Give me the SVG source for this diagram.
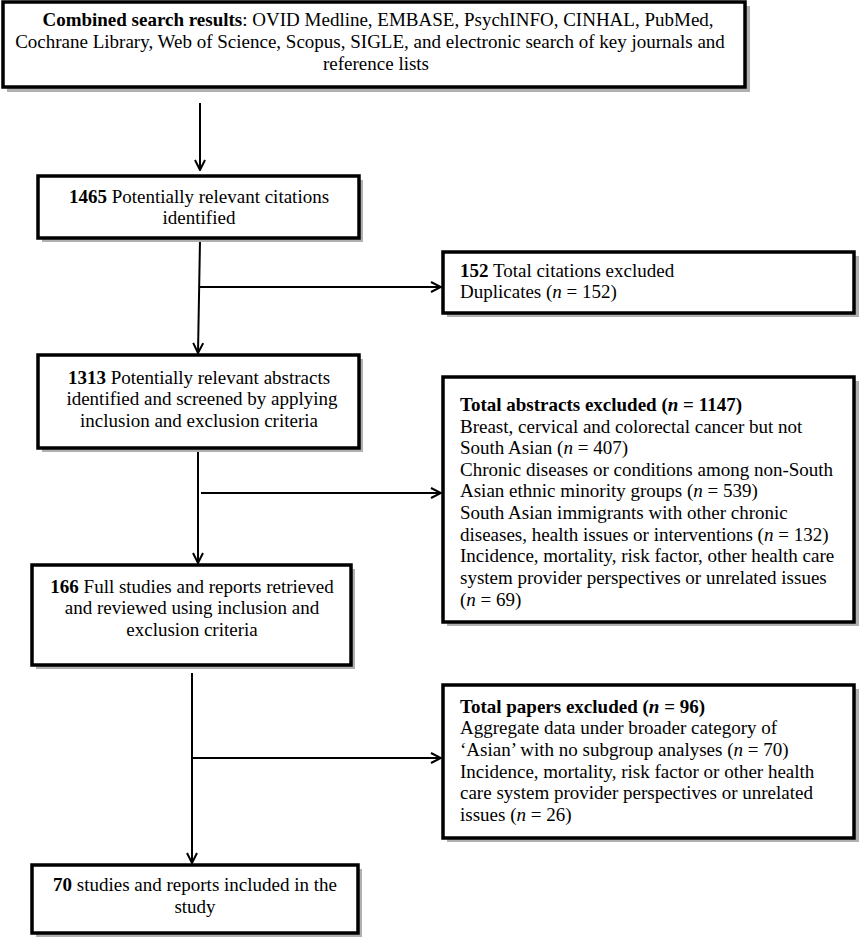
<svg xmlns="http://www.w3.org/2000/svg" width="859" height="939" viewBox="0 0 859 939">
<style>
.box{fill:#fff;stroke:#000;stroke-width:3.5}
.sh{fill:#b0b0b0}
text{font-family:"Liberation Serif","Times New Roman",serif;font-size:19px;fill:#000}
.c{text-anchor:middle}
.b{font-weight:bold}
.i{font-style:italic}
.ln{fill:none;stroke:#000;stroke-width:2}
</style>
<defs>
<marker id="ah" viewBox="0 0 12 12" refX="11" refY="6" markerWidth="12" markerHeight="12" markerUnits="userSpaceOnUse" orient="auto">
<path d="M1,1 L11,6 L1,11" fill="none" stroke="#000" stroke-width="2"/>
</marker>
</defs>
<rect width="859" height="939" fill="#fff"/>
<g id="connectors">
<line class="ln" x1="200" y1="103" x2="200" y2="170" marker-end="url(#ah)"/>
<line class="ln" x1="200" y1="240" x2="198" y2="353" marker-end="url(#ah)"/>
<line class="ln" x1="199" y1="287" x2="441" y2="287" marker-end="url(#ah)"/>
<line class="ln" x1="198" y1="450" x2="198" y2="563" marker-end="url(#ah)"/>
<line class="ln" x1="201" y1="493" x2="441" y2="493" marker-end="url(#ah)"/>
<line class="ln" x1="192" y1="673" x2="192" y2="863" marker-end="url(#ah)"/>
<line class="ln" x1="192" y1="758" x2="441" y2="758" marker-end="url(#ah)"/>
</g>
<g id="n1">
<rect class="sh" x="7" y="6" width="743" height="86"/>
<rect class="box" x="3" y="2" width="742" height="85"/>
<text class="c" x="378" y="26"><tspan class="b">Combined search results</tspan>: OVID Medline, EMBASE, PsychINFO, CINHAL, PubMed,</text>
<text class="c" x="370" y="48">Cochrane Library, Web of Science, Scopus, SIGLE, and electronic search of key journals and</text>
<text class="c" x="376" y="70">reference lists</text>
</g>
<g id="n2">
<rect class="sh" x="42" y="180" width="321" height="62"/>
<rect class="box" x="38" y="176" width="321" height="62"/>
<text class="c" x="199" y="203"><tspan class="b">1465</tspan> Potentially relevant citations</text>
<text class="c" x="199" y="224">identified</text>
</g>
<g id="n3">
<rect class="sh" x="447" y="256" width="412" height="61"/>
<rect class="box" x="443" y="252" width="411" height="61"/>
<text x="460" y="277"><tspan class="b">152</tspan> Total citations excluded</text>
<text x="460" y="298">Duplicates (<tspan class="i">n</tspan> = 152)</text>
</g>
<g id="n4">
<rect class="sh" x="42" y="359" width="321" height="93"/>
<rect class="box" x="38" y="355" width="321" height="93"/>
<text class="c" x="199" y="384"><tspan class="b">1313</tspan> Potentially relevant abstracts</text>
<text class="c" x="202" y="405">identified and screened by applying</text>
<text class="c" x="199" y="427">inclusion and exclusion criteria</text>
</g>
<g id="n5">
<rect class="sh" x="447" y="381" width="412" height="245"/>
<rect class="box" x="443" y="377" width="411" height="245"/>
<text x="460" y="411" class="b">Total abstracts excluded (<tspan class="i">n</tspan> = 1147)</text>
<text x="460" y="433">Breast, cervical and colorectal cancer but not</text>
<text x="460" y="454">South Asian (<tspan class="i">n</tspan> = 407)</text>
<text x="460" y="476">Chronic diseases or conditions among non-South</text>
<text x="460" y="497">Asian ethnic minority groups (<tspan class="i">n</tspan> = 539)</text>
<text x="460" y="519">South Asian immigrants with other chronic</text>
<text x="460" y="541">diseases, health issues or interventions (<tspan class="i">n</tspan> = 132)</text>
<text x="460" y="562">Incidence, mortality, risk factor, other health care</text>
<text x="460" y="584">system provider perspectives or unrelated issues</text>
<text x="460" y="606">(<tspan class="i">n</tspan> = 69)</text>
</g>
<g id="n6">
<rect class="sh" x="36" y="569" width="319" height="100"/>
<rect class="box" x="32" y="565" width="319" height="100"/>
<text class="c" x="192" y="593"><tspan class="b">166</tspan> Full studies and reports retrieved</text>
<text class="c" x="192" y="614">and reviewed using inclusion and</text>
<text class="c" x="192" y="636">exclusion criteria</text>
</g>
<g id="n7">
<rect class="sh" x="447" y="689" width="412" height="153"/>
<rect class="box" x="443" y="685" width="411" height="153"/>
<text x="460" y="713" class="b">Total papers excluded (<tspan class="i">n</tspan> = 96)</text>
<text x="460" y="734">Aggregate data under broader category of</text>
<text x="460" y="756">‘Asian’ with no subgroup analyses (<tspan class="i">n</tspan> = 70)</text>
<text x="460" y="778">Incidence, mortality, risk factor or other health</text>
<text x="460" y="799">care system provider perspectives or unrelated</text>
<text x="460" y="821">issues (<tspan class="i">n</tspan> = 26)</text>
</g>
<g id="n8">
<rect class="sh" x="36" y="869" width="326" height="68"/>
<rect class="box" x="32" y="865" width="326" height="68"/>
<text class="c" x="195" y="891"><tspan class="b">70</tspan> studies and reports included in the</text>
<text class="c" x="195" y="913">study</text>
</g>
</svg>
